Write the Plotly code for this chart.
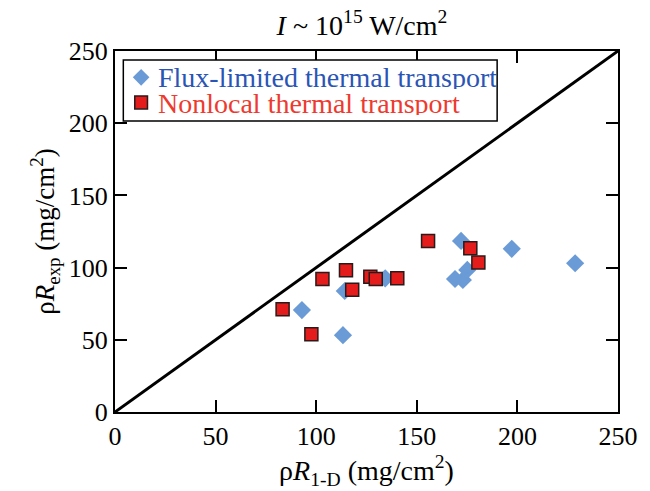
import plotly.graph_objects as go

flux_x = [92.9, 113.3, 114.2, 134.3, 172.0, 169.0, 172.9, 175.1, 197.2, 228.7]
flux_y = [70.6, 53.2, 83.8, 92.6, 118.5, 92.1, 91.4, 98.4, 113.0, 103.0]

nonlocal_x = [83.3, 97.6, 103.1, 114.8, 117.9, 126.9, 129.6, 140.3, 155.6, 176.6, 180.6]
nonlocal_y = [71.2, 53.8, 92.1, 98.1, 84.7, 93.7, 92.1, 92.6, 118.5, 113.4, 103.5]

line_vals = [0, 250]
tick_vals = [0, 50, 100, 150, 200, 250]

legend_labels = ["Flux-limited thermal transport", "Nonlocal thermal transport"]

SERIF = "Liberation Serif, Times New Roman, serif"
BLUE_MARK = "#6b9bd6"
BLUE_TEXT = "#2a55b5"
RED_MARK = "#e41c1c"
RED_TEXT = "#ee3a2e"

fig = go.Figure()
fig.add_trace(go.Scatter(x=line_vals, y=line_vals, mode="lines",
                         line=dict(color="black", width=3),
                         showlegend=False, hoverinfo="skip"))
fig.add_trace(go.Scatter(
    x=flux_x, y=flux_y, mode="markers", name=legend_labels[0], showlegend=False,
    marker=dict(symbol="diamond", size=14, color=BLUE_MARK, line=dict(width=0))))
fig.add_trace(go.Scatter(
    x=nonlocal_x, y=nonlocal_y, mode="markers", name=legend_labels[1], showlegend=False,
    marker=dict(symbol="square", size=13, color=RED_MARK,
                line=dict(color="#2a1a1a", width=1.5))))

axis_common = dict(range=[0, 250], tickvals=tick_vals, ticks="inside", ticklen=12,
                   tickwidth=2, tickcolor="black", showline=True, linecolor="black",
                   linewidth=2, mirror="ticks", showgrid=False, zeroline=False,
                   tickfont=dict(family=SERIF, size=26, color="black"))

# plot area in pixels: x 115..629, y 51..414
L, R, T, B = 115, 629, 51, 414
def px(x):
    return (x - L) / (R - L)
def py(y):
    return (B - y) / (B - T)

shapes = [
    dict(type="rect", xref="paper", yref="paper", x0=px(123.5), x1=px(505.5),
         y0=py(121.5), y1=py(60), line=dict(color="black", width=1.5), fillcolor="white",
         layer="above"),
]
cx, cy, hw, hh = 141.7, 77.5, 8.5, 8.5
shapes.append(dict(type="path", xref="paper", yref="paper", layer="above",
                   path=f"M {px(cx - hw)} {py(cy)} L {px(cx)} {py(cy - hh)} L {px(cx + hw)} {py(cy)} L {px(cx)} {py(cy + hh)} Z",
                   fillcolor=BLUE_MARK, line=dict(width=0)))
cx, cy, hs = 141.7, 102.7, 6.5
shapes.append(dict(type="rect", xref="paper", yref="paper", layer="above",
                   x0=px(cx - hs), x1=px(cx + hs), y0=py(cy + hs), y1=py(cy - hs),
                   fillcolor=RED_MARK, line=dict(color="#2a1a1a", width=1.5)))

annotations = [
    dict(text=legend_labels[0], xref="paper", yref="paper", x=px(157), y=py(77.5),
         xanchor="left", yanchor="middle", showarrow=False, height=24, valign="middle",
         font=dict(family=SERIF, size=28, color=BLUE_TEXT)),
    dict(text=legend_labels[1], xref="paper", yref="paper", x=px(157), y=py(103),
         xanchor="left", yanchor="middle", showarrow=False, height=24, valign="middle",
         font=dict(family=SERIF, size=28, color=RED_TEXT)),
]

fig.update_layout(
    width=650, height=491,
    margin=dict(l=L, r=650 - R, t=T, b=491 - B),
    paper_bgcolor="white", plot_bgcolor="white",
    title=dict(text="<i>I</i> ~ 10<sup>15</sup> W/cm<sup>2</sup>",
               x=362 / 650, xanchor="center", y=1 - 25 / 491, yanchor="middle",
               font=dict(family=SERIF, size=28, color="black")),
    xaxis=dict(axis_common,
               title=dict(text="ρ<i>R</i><sub>1-D</sub> (mg/cm<sup>2</sup>)",
                          font=dict(family=SERIF, size=28, color="black"), standoff=8)),
    yaxis=dict(axis_common,
               title=dict(text="ρ<i>R</i><sub>exp</sub> (mg/cm<sup>2</sup>)",
                          font=dict(family=SERIF, size=27, color="black"), standoff=6)),
    shapes=shapes,
    annotations=annotations,
    showlegend=False,
)

fig.write_html("out.html")
